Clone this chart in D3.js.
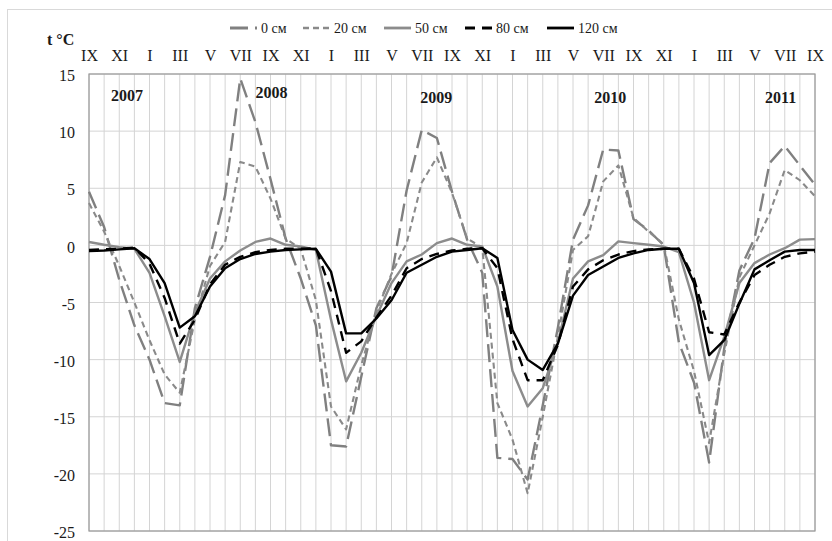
<!DOCTYPE html>
<html>
<head>
<meta charset="utf-8">
<script src="https://cdn.jsdelivr.net/npm/d3@7"></script>
<style>
    html, body { margin: 0; padding: 0; background: #fff; }
    svg { display: block; }
    text { font-family: "Liberation Serif", "Times New Roman", serif; fill: #1a1a1a; }
</style>
</head>
<body>
<div id="chart"></div>
<script>
'use strict';

// months from IX 2007 to IX 2011
var months = ['IX', 'X', 'XI', 'XII', 'I', 'II', 'III', 'IV', 'V', 'VI', 'VII', 'VIII',
    'IX', 'X', 'XI', 'XII', 'I', 'II', 'III', 'IV', 'V', 'VI', 'VII', 'VIII',
    'IX', 'X', 'XI', 'XII', 'I', 'II', 'III', 'IV', 'V', 'VI', 'VII', 'VIII',
    'IX', 'X', 'XI', 'XII', 'I', 'II', 'III', 'IV', 'V', 'VI', 'VII', 'VIII', 'IX'];

var yTicks = [15, 10, 5, 0, -5, -10, -15, -20, -25];

var years = ['2007', '2008', '2009', '2010', '2011'];
var yearPos = [1.45, 11.0, 21.9, 33.4, 44.7];   // month index where the label sits
var yearVal = [12.6, 12.9, 12.5, 12.5, 12.5];

var depths = ['0 см', '20 см', '50 см', '80 см', '120 см'];

var t0 = [4.7, 1.6, -3.0, -7.0, -10.0, -13.8, -14.0, -5.5, -1.0, 4.4, 14.6, 10.8,
    5.8, 0.6, -2.9, -7.0, -17.5, -17.6, -11.5, -5.5, -2.7, 4.8, 10.1, 9.4,
    4.7, 0.5, -2.4, -18.6, -18.7, -20.5, -14.0, -7.2, 0.5, 3.5, 8.4, 8.3,
    2.3, 1.3, 0.0, -8.5, -12.0, -19.0, -9.0, -2.2, 0.6, 7.2, 8.7, 7.0, 5.3];

var t20 = [3.7, 1.2, -1.8, -5.0, -8.3, -11.3, -12.9, -6.5, -1.8, 0.3, 7.3, 6.9,
    4.1, 0.6, -0.3, -4.8, -14.1, -16.1, -10.5, -5.8, -2.5, 0.2, 5.5, 7.7,
    4.6, 0.6, -0.2, -13.8, -17.0, -21.7, -15.0, -8.0, -0.4, 0.8, 5.6, 7.0,
    2.4, 1.2, 0.1, -6.5, -11.0, -17.3, -9.5, -2.8, 0.0, 2.8, 6.6, 5.7, 4.3];

var t50 = [0.3, 0.05, -0.15, -0.3, -2.4, -6.2, -10.2, -5.9, -2.9, -1.4, -0.45, 0.3,
    0.6, 0.05, -0.1, -0.4, -6.5, -11.9, -9.4, -6.2, -3.3, -1.4, -0.8, 0.2,
    0.6, 0.05, -0.1, -3.6, -11.0, -14.1, -12.5, -8.5, -2.9, -1.4, -0.85, 0.35,
    0.2, 0.05, -0.1, -0.6, -5.0, -11.8, -8.0, -3.3, -1.55, -0.8, -0.25, 0.5, 0.55];

var t80 = [-0.4, -0.35, -0.3, -0.2, -1.6, -4.6, -8.6, -6.5, -3.4, -1.7, -1.0, -0.6,
    -0.4, -0.3, -0.3, -0.25, -4.0, -9.4, -8.4, -6.3, -4.4, -2.0, -1.2, -0.75,
    -0.45, -0.3, -0.25, -2.0, -8.2, -11.8, -11.8, -8.7, -3.6, -2.1, -1.3, -0.8,
    -0.5, -0.35, -0.3, -0.3, -2.9, -7.6, -7.8, -5.0, -2.6, -1.7, -1.0, -0.7, -0.55];

var t120 = [-0.5, -0.45, -0.35, -0.25, -1.2, -3.3, -7.2, -6.2, -3.6, -2.0, -1.2, -0.75,
    -0.55, -0.4, -0.35, -0.3, -2.3, -7.7, -7.7, -6.4, -4.8, -2.4, -1.7, -1.0,
    -0.55, -0.4, -0.25, -1.1, -7.4, -10.0, -10.9, -8.6, -4.4, -2.6, -1.85, -1.1,
    -0.7, -0.4, -0.3, -0.3, -3.3, -9.6, -8.3, -5.1, -2.1, -1.3, -0.55, -0.4, -0.4];

var series = [t0, t20, t50, t80, t120];
var styles = [
    { color: '#808080', width: 2.4, dash: '18,7' },
    { color: '#8a8a8a', width: 2.1, dash: '6,4' },
    { color: '#8c8c8c', width: 2.4, dash: null },
    { color: '#000000', width: 2.4, dash: '10,7' },
    { color: '#000000', width: 2.4, dash: null }
];

var width = 832, height = 541;
var plot = { left: 89, right: 815, top: 74, bottom: 531 };

var svg = d3.select('#chart').append('svg')
    .attr('width', width)
    .attr('height', height);

// chart area frame
svg.append('rect')
    .attr('x', 7.5).attr('y', 9.5)
    .attr('width', 840).attr('height', 545)
    .attr('fill', 'none')
    .attr('stroke', '#d9d9d9');

var x = d3.scaleLinear().domain([0, months.length - 1]).range([plot.left, plot.right]);
var y = d3.scaleLinear().domain([-25, 15]).range([plot.bottom, plot.top]);

// grid
svg.append('g')
    .selectAll('line')
    .data(d3.range(months.length))
    .enter().append('line')
    .attr('x1', function(d) { return x(d); })
    .attr('x2', function(d) { return x(d); })
    .attr('y1', plot.top)
    .attr('y2', plot.bottom)
    .style('stroke', '#d4d4d4')
    .style('stroke-width', 1);

svg.append('g')
    .selectAll('line')
    .data(yTicks)
    .enter().append('line')
    .attr('x1', plot.left)
    .attr('x2', plot.right)
    .attr('y1', function(d) { return y(d); })
    .attr('y2', function(d) { return y(d); })
    .style('stroke', '#d4d4d4')
    .style('stroke-width', 1);

svg.append('rect')
    .attr('x', plot.left).attr('y', plot.top)
    .attr('width', plot.right - plot.left)
    .attr('height', plot.bottom - plot.top)
    .attr('fill', 'none')
    .style('stroke', '#9a9a9a')
    .style('stroke-width', 1.2);

// y axis labels (plain hyphen minus as in the original)
var yAxis = d3.axisLeft(y)
    .tickValues(yTicks)
    .tickFormat(function(d) { return String(d); })
    .tickSize(0).tickPadding(14);
var gy = svg.append('g')
    .attr('transform', 'translate(' + plot.left + ',1.5)')
    .call(yAxis);
gy.select('.domain').remove();
gy.selectAll('text')
    .style('font-family', '"Liberation Serif", "Times New Roman", serif')
    .style('font-size', '16px')
    .style('fill', '#1a1a1a');

// month labels on top
var xAxis = d3.axisTop(x)
    .tickValues(d3.range(0, months.length, 2))
    .tickFormat(function(d) { return months[d]; })
    .tickSize(0).tickPadding(13);
var gx = svg.append('g')
    .attr('transform', 'translate(0,' + plot.top + ')')
    .call(xAxis);
gx.select('.domain').remove();
gx.selectAll('text')
    .style('font-family', '"Liberation Serif", "Times New Roman", serif')
    .style('font-size', '16px')
    .style('fill', '#1a1a1a');

svg.append('text')
    .attr('x', 47).attr('y', 45)
    .style('font-size', '16px')
    .style('font-weight', 'bold')
    .text('t °C');

// years
svg.append('g')
    .selectAll('text')
    .data(years)
    .enter().append('text')
    .attr('x', function(d, i) { return x(yearPos[i]); })
    .attr('y', function(d, i) { return y(yearVal[i]); })
    .style('font-size', '16px')
    .style('font-weight', 'bold')
    .text(function(d) { return d; });

// series
var line = d3.line()
    .x(function(d, i) { return x(i); })
    .y(function(d) { return y(d); });

svg.append('g')
    .selectAll('path')
    .data(series)
    .enter().append('path')
    .attr('d', line)
    .attr('fill', 'none')
    .style('stroke', function(d, i) { return styles[i].color; })
    .style('stroke-width', function(d, i) { return styles[i].width; })
    .style('stroke-dasharray', function(d, i) { return styles[i].dash; })
    .style('stroke-linejoin', 'round');

// legend
var legendX = [230, 303, 384, 465, 547];
var legend = svg.append('g')
    .selectAll('g')
    .data(depths)
    .enter().append('g')
    .attr('transform', function(d, i) { return 'translate(' + legendX[i] + ',28)'; });

legend.append('line')
    .attr('x1', 0).attr('x2', 27)
    .attr('y1', 0).attr('y2', 0)
    .style('stroke', function(d, i) { return styles[i].color; })
    .style('stroke-width', function(d, i) { return styles[i].width + 0.4; })
    .style('stroke-dasharray', function(d, i) { return styles[i].dash; });

legend.append('text')
    .attr('x', 31).attr('y', 4.5)
    .style('font-size', '14px')
    .text(function(d) { return d; });
</script>
</body>
</html>
